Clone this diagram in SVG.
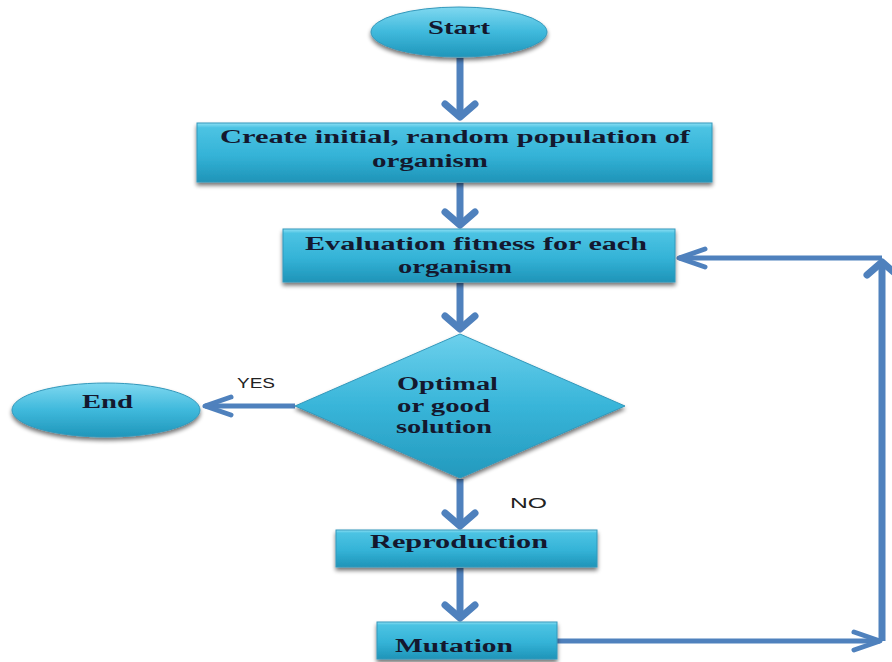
<svg xmlns="http://www.w3.org/2000/svg" width="892" height="662" viewBox="0 0 892 662">
  <defs>
    <style>
      .shape { stroke: #3398bb; stroke-width: 1; filter: url(#shadow); }
      .box { fill: url(#boxFill); }
      .oval { fill: url(#ovalFill); }
      .dia { fill: url(#diaFill); }
      .lbl { font-family: "Liberation Serif", "Times New Roman", serif; font-weight: bold; font-size: 18px; fill: #14182e; }
      .tag { font-family: "Liberation Sans", Arial, sans-serif; font-size: 14px; fill: #222; }
      .v { fill: none; stroke: #4f81bd; stroke-width: 7; marker-end: url(#vhead); }
      .h { fill: none; stroke: #4f81bd; stroke-width: 5; marker-end: url(#hhead); }
    </style>
    <linearGradient id="boxFill" x1="0" y1="0" x2="0" y2="1">
      <stop offset="0" stop-color="#8ee0f4"/>
      <stop offset="0.08" stop-color="#4cc3e3"/>
      <stop offset="0.55" stop-color="#34b3d7"/>
      <stop offset="1" stop-color="#1f94b8"/>
    </linearGradient>
    <linearGradient id="ovalFill" x1="0" y1="0" x2="0" y2="1">
      <stop offset="0" stop-color="#7fd8f0"/>
      <stop offset="0.5" stop-color="#3fb9dc"/>
      <stop offset="1" stop-color="#1f96ba"/>
    </linearGradient>
    <linearGradient id="diaFill" x1="0" y1="0" x2="0" y2="1">
      <stop offset="0" stop-color="#6cd0ec"/>
      <stop offset="0.5" stop-color="#38b5d9"/>
      <stop offset="1" stop-color="#2399bd"/>
    </linearGradient>
    <filter id="shadow" x="-10%" y="-20%" width="120%" height="150%">
      <feGaussianBlur in="SourceAlpha" stdDeviation="2"/>
      <feOffset dx="0" dy="3" result="blur"/>
      <feComponentTransfer><feFuncA type="linear" slope="0.55"/></feComponentTransfer>
      <feMerge><feMergeNode/><feMergeNode in="SourceGraphic"/></feMerge>
    </filter>
    <marker id="vhead" markerUnits="userSpaceOnUse" viewBox="-20 -20 26 40" markerWidth="26" markerHeight="40" refX="0" refY="0" orient="auto" overflow="visible">
      <path d="M-13,-15 L0,0 L-13,15" fill="none" stroke="#4f81bd" stroke-width="7" stroke-linecap="round" stroke-linejoin="round"/>
    </marker>
    <marker id="hhead" markerUnits="userSpaceOnUse" viewBox="-32 -14 38 28" markerWidth="38" markerHeight="28" refX="0" refY="0" orient="auto" overflow="visible">
      <path d="M-26,-9 L0,0 L-26,9" fill="none" stroke="#4f81bd" stroke-width="5" stroke-linecap="round" stroke-linejoin="round"/>
    </marker>
  </defs>

  <rect width="892" height="662" fill="#ffffff"/>

  <!-- connectors -->
  <g id="connectors">
    <path class="v" d="M460,58 V117"/>
    <path class="v" d="M460,183 V225"/>
    <path class="v" d="M460,283 V329"/>
    <path class="v" d="M460,479 V526"/>
    <path class="v" d="M460,568 V618"/>
    <path class="h" d="M295,406 H205"/>
    <path class="h" d="M557,641 H880"/>
    <path class="v" d="M882,641 V262"/>
    <path class="h" d="M882,258 H679"/>
    <text class="tag" x="237" y="388" textLength="38" lengthAdjust="spacingAndGlyphs">YES</text>
    <text class="tag" x="510" y="508" textLength="37" lengthAdjust="spacingAndGlyphs">NO</text>
  </g>

  <g id="start">
    <ellipse class="shape oval" cx="459" cy="32" rx="88" ry="25"/>
    <text class="lbl" x="428" y="34" textLength="62" lengthAdjust="spacingAndGlyphs">Start</text>
  </g>

  <g id="create">
    <rect class="shape box" x="197" y="123" width="515" height="59"/>
    <text class="lbl" x="220" y="143" textLength="470" lengthAdjust="spacingAndGlyphs">Create initial, random population of</text>
    <text class="lbl" x="372" y="167" textLength="116" lengthAdjust="spacingAndGlyphs">organism</text>
  </g>

  <g id="evaluate">
    <rect class="shape box" x="283" y="229" width="392" height="53"/>
    <text class="lbl" x="305" y="250" textLength="342" lengthAdjust="spacingAndGlyphs">Evaluation fitness for each</text>
    <text class="lbl" x="398" y="273" textLength="114" lengthAdjust="spacingAndGlyphs">organism</text>
  </g>

  <g id="decision">
    <polygon class="shape dia" points="460,334 625,406 460,478 295,406"/>
    <text class="lbl" x="397" y="390" textLength="101" lengthAdjust="spacingAndGlyphs">Optimal</text>
    <text class="lbl" x="397" y="412" textLength="93" lengthAdjust="spacingAndGlyphs">or good</text>
    <text class="lbl" x="396" y="433" textLength="96" lengthAdjust="spacingAndGlyphs">solution</text>
  </g>

  <g id="end">
    <ellipse class="shape oval" cx="106" cy="410" rx="94" ry="27"/>
    <text class="lbl" x="82" y="408" textLength="51" lengthAdjust="spacingAndGlyphs">End</text>
  </g>

  <g id="reproduction">
    <rect class="shape box" x="336" y="530" width="261" height="37"/>
    <text class="lbl" x="370" y="548" textLength="178" lengthAdjust="spacingAndGlyphs">Reproduction</text>
  </g>

  <g id="mutation">
    <rect class="shape box" x="377" y="622" width="180" height="37"/>
    <text class="lbl" x="395" y="652" textLength="118" lengthAdjust="spacingAndGlyphs">Mutation</text>
  </g>
</svg>
